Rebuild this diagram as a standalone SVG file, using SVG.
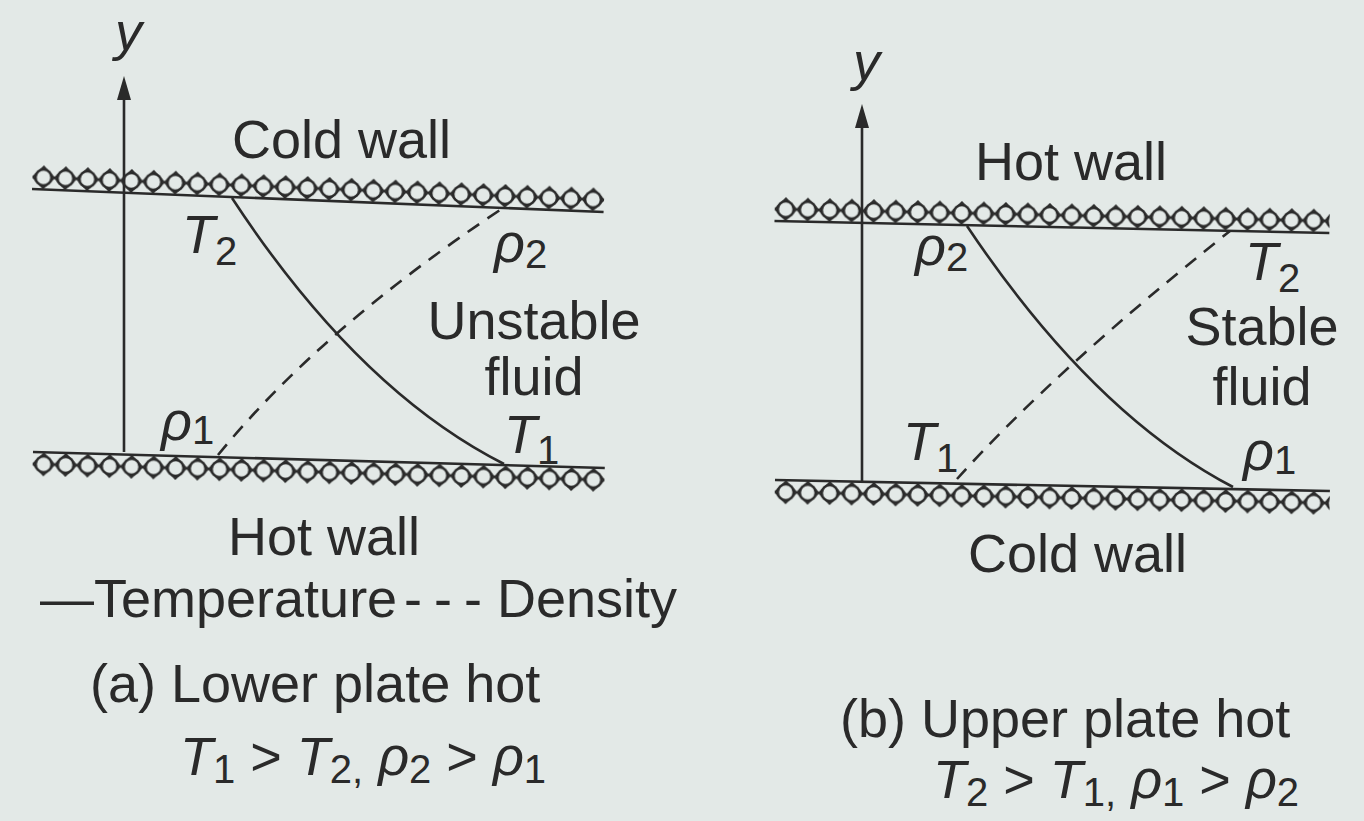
<svg xmlns="http://www.w3.org/2000/svg" width="1364" height="821" viewBox="0 0 1364 821">
<style>
text{font-family:"Liberation Sans",Arial,sans-serif;fill:#2a2a2a;font-size:54px}
.it{font-style:italic}
.sub{font-style:normal;font-size:40px}
.ln{stroke:#2a2a2a;stroke-width:2.6;fill:none}
.dash{stroke:#2a2a2a;stroke-width:2.6;fill:none;stroke-dasharray:14 10}
</style>
<defs>
<pattern id="hatch" width="22" height="24" patternUnits="userSpaceOnUse">
<rect width="22" height="24" fill="#e3e9e7"/>
<path d="M0,12 L11,1 L22,12 L11,23 Z" fill="#3a3a3a" stroke="#2a2a2a" stroke-width="1.5"/>
<circle cx="11" cy="12" r="8" fill="#e3e9e7" stroke="#2a2a2a" stroke-width="2.6"/>
</pattern>
</defs>
<rect width="1364" height="821" fill="#e3e9e7"/>

<g id="panel-a">
<g id="a-top-wall" transform="translate(33,165) rotate(2.3)">
<rect x="0" y="0" width="572" height="24" fill="url(#hatch)"/>
<line class="ln" x1="0" y1="24" x2="572" y2="24"/>
</g>
<g id="a-bottom-wall" transform="translate(33,452) rotate(1.6)">
<rect x="0" y="0" width="572" height="24" fill="url(#hatch)"/>
<line class="ln" x1="0" y1="0" x2="572" y2="0"/>
</g>
<g id="a-axis">
<line class="ln" x1="124" y1="452" x2="124" y2="92"/>
<polygon points="124,76 117,100 131,100" fill="#2a2a2a"/>
<text class="it" x="115" y="50" font-size="48">y</text>
</g>
<g id="a-labels">
<text x="232" y="158">Cold wall</text>
<text x="228" y="555">Hot wall</text>
<text x="534" y="339" text-anchor="middle" font-size="51">Unstable</text>
<text x="534" y="395" text-anchor="middle" font-size="51">fluid</text>
<text class="it" x="182" y="253">T<tspan class="sub" dy="12">2</tspan></text>
<text class="it" x="494" y="262">ρ<tspan class="sub" dy="6">2</tspan></text>
<text class="it" x="161" y="440">ρ<tspan class="sub" dy="4">1</tspan></text>
<text class="it" x="504" y="453" font-size="52">T<tspan class="sub" dy="11" font-size="38">1</tspan></text>
</g>
</g>

<g id="panel-b">
<g id="b-top-wall" transform="translate(775,197) rotate(1.24)">
<rect x="0" y="0" width="555" height="24" fill="url(#hatch)"/>
<line class="ln" x1="0" y1="24" x2="555" y2="24"/>
</g>
<g id="b-bottom-wall" transform="translate(775,480) rotate(1.14)">
<rect x="0" y="0" width="555" height="24" fill="url(#hatch)"/>
<line class="ln" x1="0" y1="0" x2="555" y2="0"/>
</g>
<g id="b-axis">
<line class="ln" x1="862" y1="482" x2="862" y2="120"/>
<polygon points="862,104 855,128 869,128" fill="#2a2a2a"/>
<text class="it" x="853" y="80" font-size="48">y</text>
</g>
<g id="b-labels">
<text x="975" y="180">Hot wall</text>
<text x="968" y="572">Cold wall</text>
<text x="1262" y="345" text-anchor="middle">Stable</text>
<text x="1262" y="405" text-anchor="middle">fluid</text>
<text class="it" x="915" y="265">ρ<tspan class="sub" dy="6">2</tspan></text>
<text class="it" x="1245" y="280">T<tspan class="sub" dy="12">2</tspan></text>
<text class="it" x="903" y="460">T<tspan class="sub" dy="12">1</tspan></text>
<text class="it" x="1243" y="470">ρ<tspan class="sub" dy="4">1</tspan></text>
</g>
</g>

<g id="connectors">
<path id="a-temperature" class="ln" d="M232,198 Q358,390 504,464"/>
<path id="a-density" class="dash" d="M218,455 Q320,330 500,210"/>
<path id="b-density-solid" class="ln" d="M967,226 Q1093,414 1233,487"/>
<path id="b-temperature-dashed" class="dash" d="M957,479 Q1055,370 1230,231"/>
</g>

<g id="legend">
<text x="40" y="617">—Temperature</text>
<text x="404" y="617" letter-spacing="12">---</text>
<text x="497" y="617">Density</text>
</g>

<g id="captions">
<text x="90" y="702">(a) Lower plate hot</text>
<text class="it" x="180" y="775">T<tspan class="sub" dy="8">1</tspan><tspan style="font-style:normal" dy="-8"> &gt; </tspan>T<tspan class="sub" dy="8">2,</tspan><tspan dy="-8"> ρ</tspan><tspan class="sub" dy="8">2</tspan><tspan style="font-style:normal" dy="-8"> &gt; </tspan>ρ<tspan class="sub" dy="8">1</tspan></text>
<text x="840" y="737">(b) Upper plate hot</text>
<text class="it" x="933" y="798" font-size="51">T<tspan class="sub" dy="8" font-size="38">2</tspan><tspan style="font-style:normal" dy="-8"> &gt; </tspan>T<tspan class="sub" dy="8" font-size="38">1,</tspan><tspan dy="-8"> ρ</tspan><tspan class="sub" dy="8" font-size="38">1</tspan><tspan style="font-style:normal" dy="-8"> &gt; </tspan>ρ<tspan class="sub" dy="8" font-size="38">2</tspan></text>
</g>
</svg>
